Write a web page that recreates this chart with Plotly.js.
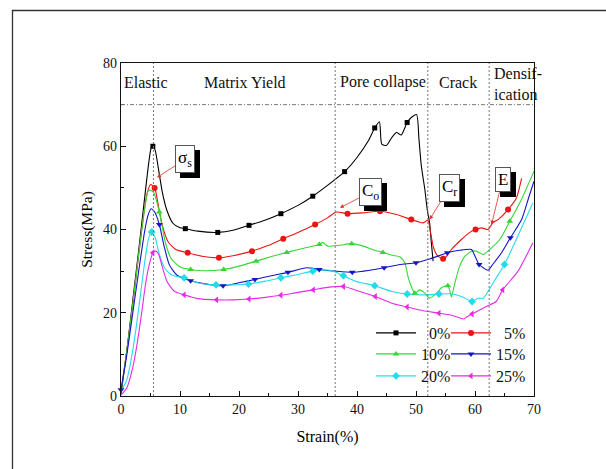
<!DOCTYPE html>
<html><head><meta charset="utf-8">
<script src="https://cdn.plot.ly/plotly-3.0.1.min.js"></script>
<style>html,body{margin:0;padding:0;background:#fff}#chart{width:606px;height:469px}</style>
</head><body><div id="chart"></div>
<script>
// ---- data ----
const seriesNames = ['0%','5%','10%','15%','20%','25%'];

const s0x = [0,1,2,3,3.6,4.2,4.7,5.1,5.4,5.8,6.3,7,7.8,8.8,10,10.9,13,16.4,19,21.7,24.5,27.1,30,32.5,35,37.9,40,42,43,43.8,44.2,45,45.9,46.7,47.5,48.5,49.2,50.1,50.5,50.9,51.5,51.9,52.3,52.6,52.9];
const s0y = [0.5,11,23,35,42.5,50,56,59.5,60,59,55,49,44.5,41.5,40.4,40.2,39.6,39.3,39.8,41,42.3,43.8,45.8,48,50.6,53.9,57.3,61.5,64.4,65.9,60.5,60.2,62.1,63.3,62.7,65.7,66.9,67.6,61.7,55.3,49.6,44.8,41.6,36.8,32.4];
const s0m = [5.4,10.9,16.4,21.7,27.1,32.5,37.9,43,48.5];

const s1x = [0,1,2,3,3.8,4.4,5,5.7,6.3,7,8,9.3,11.3,14,16.6,19,22.2,25,27.5,30,32.9,35,36.5,38.4,41,43.9,46.7,49.2,51.2,52,52.5,53,53.7,54.6,55.2,56,57.7,59,60.1,61.1,62.2,63,64,65.6,67,67.9];
const s1y = [1,11,22,34,43,48.5,50.8,50,46,41,37,35.2,34.4,33.5,33.2,33.7,34.8,36.2,37.8,39.3,41.2,42.8,44.2,43.8,44,44.4,43.6,42.4,41.6,42.2,39,35.5,33.6,33,33.6,35.2,37.6,39.2,40,40.4,40,41.6,42.5,44.8,47.5,52.3];
const s1m = [5.7,11.3,16.6,22.2,27.5,32.9,38.4,43.9,49.2,54.6,60.1,65.6];

const s2x = [0,1,2,3,4,4.7,5.5,6.5,7.5,8.5,10,11.8,14,17.4,20,22.9,25.5,28.1,31,33.6,34.2,35,37,39.1,41.1,43,44.4,46,47.3,48.1,48.7,49.2,49.8,50.6,51.5,52.3,53.5,54.3,55.4,55.7,56,56.6,57.4,58.3,59.4,60.2,61.4,62.5,64.2,65.9,67.6,70];
const s2y = [1,11,22,34,45,49.5,49,44.2,37,33,31,30.4,30.1,30.4,31.2,32.4,33.5,34.5,35.5,36.4,36.9,36,36.2,36.6,36,35,34.5,33.8,33.4,32,28.4,26.3,24.7,25.5,24.7,23.5,24.7,26,26.5,25.5,23.8,27.2,31.2,33.6,34.8,34.8,34,35.2,37.6,42,46.4,54];
const s2m = [6.5,11.8,17.4,22.9,28.1,33.6,39.1,44.4,49.8,55.4,65.9];

const s3x = [0,1,2,3,4,4.6,5.1,5.7,6.5,7.3,8.2,9.5,11.8,14,17.3,20,22.7,25.5,28.3,31.5,33.6,36.3,39.2,42.2,44.6,47.3,50,52.3,55.3,57.4,59.4,60,60.7,61.4,62.2,63,64.5,66,67.9,69,70];
const s3y = [1.5,10,20,30,39.5,43.5,45,44.2,41.2,36,31.5,29,27.7,27,26.5,27.2,28,28.9,29.7,30.8,30.4,30,29.7,30.2,30.8,31.6,32,32.9,34.4,35,35.2,33.6,31.6,30.8,30.2,31.6,34.4,38,42.4,47.2,51.6];
const s3m = [0,6.5,11.8,17.3,22.7,28.3,33.6,39.2,44.6,50,55.3,60.7,66];

const s4x = [0,1,2,3,4,4.7,5.2,5.8,6.5,7.5,8.7,10.7,13,16.1,19,21.6,24.5,27.1,30,32.5,35.4,37.7,39.9,43,45.9,48.5,51.8,53.9,56.3,58,59.5,60.5,61.4,62.2,63.6,65,67,69.8];
const s4y = [1,4,11,21,32,38,39.4,38,34,30.5,29,28.4,27.2,26.7,26.7,26.9,27.6,28.4,29.2,30,30.2,28.9,27.5,26.5,25.1,24.5,24.3,24.5,24.5,23.7,22.7,23.5,23.5,25.1,28.4,31.6,37.6,46.4];
const s4m = [5.2,10.7,16.1,21.6,27.1,32.5,37.7,43,48.5,53.9,59.5,65];

const s5x = [0,1,1.6,2.3,3,3.6,4.1,4.7,5.4,5.8,6.3,7,7.8,9,10.7,13,16.2,19,21.7,24.5,27.1,30,32.6,35,37.7,40.5,43.1,45.9,48.5,51.2,53.9,56.3,58,58.5,59.5,61.9,63.6,64.7,67.3,69.8];
const s5y = [0.2,2,4.6,9,15,21,26.3,31,34.4,34.8,34.3,31,27.5,25.2,24.3,23.4,23.1,23.1,23.3,23.7,24.2,24.9,25.5,26.1,26.3,25.1,23.9,22.3,21.4,20.5,19.9,19.3,18.5,18.9,19.7,21.5,22.7,25.5,30,36.8];
const s5m = [5.4,10.7,16.2,21.7,27.1,32.6,37.7,43.1,48.5,53.9,59.5,64.7];

// phase boundaries (strain %) and densification threshold line (MPa)
const phaseBounds = [5.5, 36.3, 52.0, 62.4];
const topLine = 70;
const phaseLabels = ['Elastic','Matrix Yield','Pore collapse','Crack','Densif-<br>ication'];

// ---- styling ----
const colors = ['#000000','#e81515','#35d635','#1414c8','#22dcec','#e62ae6'];
const symbols = ['square','circle','triangle-up','triangle-down','diamond','triangle-left'];
const X = [s0x,s1x,s2x,s3x,s4x,s5x];
const Y = [s0y,s1y,s2y,s3y,s4y,s5y];
const M = [s0m,s1m,s2m,s3m,s4m,s5m];
const SERIF = '"Times New Roman", "Liberation Serif", Tinos, serif';

const W = 606, H = 469, ML = 121, MR = 72, MT = 63, MB = 73;
const pw = W - ML - MR, ph = H - MT - MB;
const px = v => (v - ML) / pw, py = v => (H - MB - v) / ph;

const traces = [];
for (let i = 0; i < 6; i++) {
  traces.push({x: X[i], y: Y[i], mode: 'lines', type: 'scatter', showlegend: false,
    line: {color: colors[i], width: 1.1, shape: 'spline', smoothing: 0.6}, hoverinfo: 'skip'});
}
const legendKeys = ['legend','legend2','legend3','legend4','legend5','legend6'];
const maxLen = Math.max(...seriesNames.map(s => s.length));
for (let i = 0; i < 6; i++) {
  const mx = [], my = [];
  M[i].forEach(v => { const k = X[i].indexOf(v); if (k >= 0) { mx.push(X[i][k], null); my.push(Y[i][k], null); } });
  const label = '\u2007'.repeat(maxLen - seriesNames[i].length) + seriesNames[i];
  traces.push({x: mx, y: my, mode: 'lines+markers', type: 'scatter', connectgaps: false,
    name: label, legend: legendKeys[i],
    line: {color: colors[i], width: 1.1},
    marker: {color: colors[i], symbol: symbols[i], size: symbols[i]==='square'?5:6}, cliponaxis: false});
}

const shapes = [];
phaseBounds.forEach(b => shapes.push({type: 'line', xref: 'x', yref: 'y', x0: b, x1: b, y0: 0, y1: 80,
  line: {color: '#777', width: 1, dash: '2px,2px'}}));
shapes.push({type: 'line', xref: 'x', yref: 'y', x0: 0, x1: 70, y0: topLine, y1: topLine,
  line: {color: '#777', width: 1, dash: '4px,2px,1px,2px'}});
// outer frame (top and left edges)
shapes.push({type: 'line', xref: 'paper', yref: 'paper', x0: px(12), x1: px(W + 5), y0: py(10.5), y1: py(10.5), line: {color: '#333', width: 1.3}});
shapes.push({type: 'line', xref: 'paper', yref: 'paper', x0: px(12.5), x1: px(12.5), y0: py(10), y1: py(H + 5), line: {color: '#333', width: 1.3}});

const annotations = [];
const phasePos = [[0.1, 'left', 75.4], [21.0, 'center', 75.4], [36.7, 'left', 75.4], [53.6, 'left', 75.4], [62.8, 'left', 75.0]];
phaseLabels.forEach((t, i) => annotations.push({x: phasePos[i][0], y: phasePos[i][2], xref: 'x', yref: 'y', text: t,
  showarrow: false, xanchor: phasePos[i][1], yanchor: 'middle', align: 'left', font: {family: SERIF, size: 16, color: '#111'}}));

const callouts = [
  {text: 'σ<sub>s</sub>', x: 6.1, y: 52.5, ax: 28, ay: -18},
  {text: 'C<sub>o</sub>', x: 37.1, y: 45.2, ax: 31, ay: -16},
  {text: 'C<sub>r</sub>', x: 52.3, y: 42.4, ax: 20, ay: -32},
  {text: 'E', x: 62.8, y: 41.2, ax: 11, ay: -45}
];
callouts.forEach(c => {
  annotations.push({x: c.x, y: c.y, ax: c.ax, ay: c.ay, text: c.text, showarrow: true, arrowcolor: 'rgba(0,0,0,0)',
    xshift: 5, yshift: -5, bgcolor: '#000', bordercolor: '#000', borderwidth: 1, borderpad: 2,
    font: {family: SERIF, size: 17, color: '#000'}});
  annotations.push({x: c.x, y: c.y, ax: c.ax, ay: c.ay, text: c.text, showarrow: true, arrowcolor: '#e03020',
    arrowhead: 2, arrowsize: 1, arrowwidth: 0.8, bgcolor: '#fff', bordercolor: '#555', borderwidth: 1, borderpad: 2,
    font: {family: SERIF, size: 17, color: '#000'}});
});

const axisBase = {showline: true, linecolor: '#111', linewidth: 1.2, mirror: true, showgrid: false, zeroline: false,
  ticks: 'inside', ticklen: 5, tickwidth: 1, tickcolor: '#111', tickfont: {family: SERIF, size: 14, color: '#111'}};

const layout = {
  width: W, height: H, margin: {l: ML, r: MR, t: MT, b: MB, pad: 0},
  paper_bgcolor: '#fff', plot_bgcolor: '#fff', font: {family: SERIF, color: '#000'},
  xaxis: Object.assign({}, axisBase, {range: [0, 70], tick0: 0, dtick: 10, fixedrange: true,
    minor: {dtick: 5, ticks: 'inside', ticklen: 3, tickcolor: '#111'},
    title: {text: 'Strain(%)', font: {family: SERIF, size: 16}, standoff: 14}}),
  yaxis: Object.assign({}, axisBase, {range: [0, 80], tick0: 0, dtick: 20, fixedrange: true,
    minor: {dtick: 10, ticks: 'inside', ticklen: 3, tickcolor: '#111'},
    title: {text: 'Stress(MPa)', font: {family: SERIF, size: 15.5}, standoff: 6}}),
  shapes: shapes, annotations: annotations, showlegend: true
};
// legend slots: two columns, three rows
const colLeft = [371, 446], rowTop = [316, 337, 359];
for (let i = 0; i < 6; i++) {
  layout[legendKeys[i]] = {x: px(colLeft[i % 2]), y: py(rowTop[Math.floor(i / 2)]), xanchor: 'left', yanchor: 'top',
    bgcolor: 'rgba(0,0,0,0)', font: {family: SERIF, size: 16, color: '#111'}, itemwidth: 40, tracegroupgap: 0};
}

Plotly.newPlot('chart', traces, layout, {displayModeBar: false, staticPlot: true});
</script></body></html>
